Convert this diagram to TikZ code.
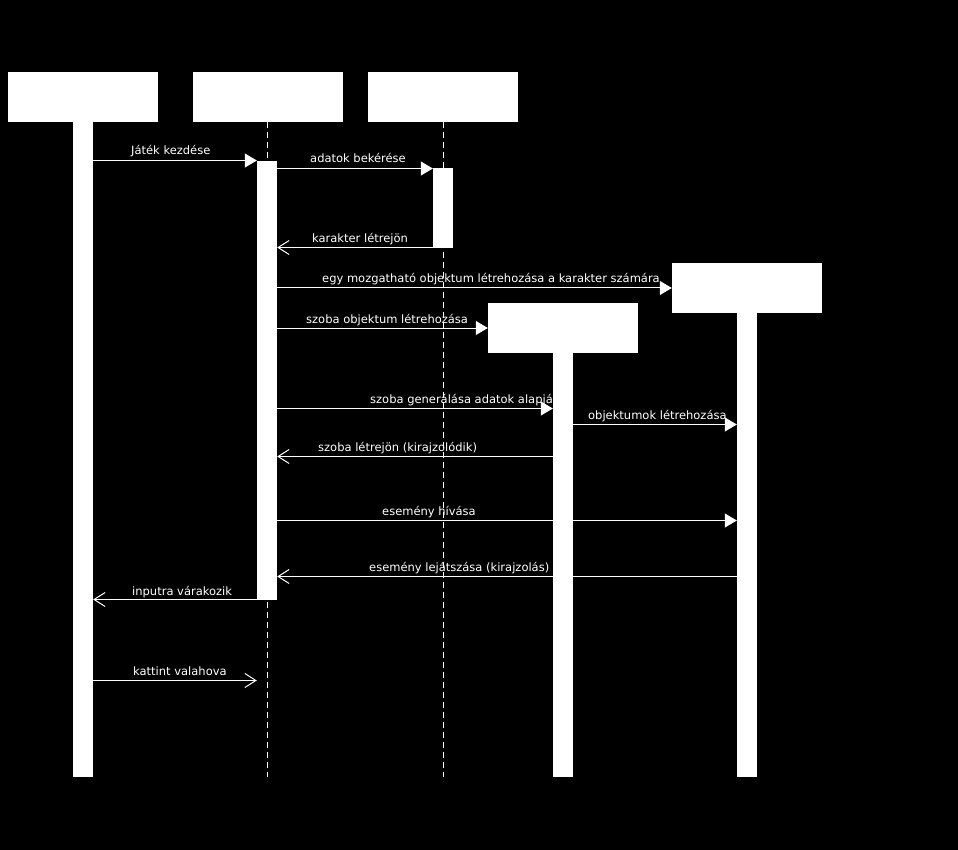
\documentclass[tikz,border=0pt]{standalone}
\usepackage{fontspec}
\setmainfont{DejaVu Sans}
\usetikzlibrary{arrows.meta}
\pgfdeclarelayer{bg}
\pgfsetlayers{bg,main}
\begin{document}
\begin{tikzpicture}[x=1pt,y=-1pt,
  head/.style={fill=white, draw=none, minimum width=150pt, minimum height=50pt, inner sep=0pt},
  bar/.style={fill=white, draw=none, minimum width=20pt, inner sep=0pt},
  life/.style={white, line width=1pt, dash pattern=on 6pt off 4pt},
  msg/.style={white, line width=1pt, -{Triangle[length=12pt,width=14pt]}},
  ret/.style={white, line width=1pt, -{Straight Barb[length=11pt,width=14pt]}},
  lbl/.style={text=white, font=\fontsize{11.5}{13}\selectfont, anchor=base west, inner sep=0pt}]
\useasboundingbox (0,0) rectangle (958,850);
\begin{pgfonlayer}{bg}
\fill[black] (0,0) rectangle (958,850);
\end{pgfonlayer}
% participant heads
\node[head] (hA) at (83,97) {};
\node[head] (hB) at (267.5,97) {};
\node[head] (hC) at (443,97) {};
\node[head] (hD) at (563,328) {};
\node[head] (hE) at (747,288) {};
% lifelines and labels (behind)
\coordinate (eB) at (267,777);
\coordinate (eC) at (443,777);
\begin{pgfonlayer}{bg}
\draw[life] (hB.south -| eB) -- (eB);
\draw[life] (hC.south -| eC) -- (eC);
\node[lbl] (l1) at (131,155) {Játék kezdése};
\node[lbl] (l2) at (310,163) {adatok bekérése};
\node[lbl] (l3) at (312,243) {karakter létrejön};
\node[lbl] (l4) at (322,283) {egy mozgatható objektum létrehozása a karakter számára};
\node[lbl] (l5) at (306,323) {szoba objektum létrehozása};
\node[lbl] (l6) at (370,403) {szoba generálása adatok alapján};
\node[lbl] (l7) at (588,419) {objektumok létrehozása};
\node[lbl] (l8) at (318,451) {szoba létrejön (kirajzolódik)};
\node[lbl] (l9) at (382,515) {esemény hívása};
\node[lbl] (l10) at (369,571) {esemény lejátszása (kirajzolás)};
\node[lbl] (l11) at (132,595) {inputra várakozik};
\node[lbl] (l12) at (133,675) {kattint valahova};
\end{pgfonlayer}
% activation bars
\node[bar, minimum height=655pt] (bA) at (83,449.5) {};
\node[bar, minimum height=439pt] (bB) at (267,380.5) {};
\node[bar, minimum height=80pt] (bC) at (443,208) {};
\node[bar, minimum height=424pt] (bD) at (563,565) {};
\node[bar, minimum height=464pt] (bE) at (747,545) {};
% message rows
\coordinate (r1) at (0,160.5);
\coordinate (r2) at (0,168.5);
\coordinate (r3) at (0,247.5);
\coordinate (r4) at (0,288);
\coordinate (r5) at (0,328);
\coordinate (r6) at (0,408.5);
\coordinate (r7) at (0,424.5);
\coordinate (r8) at (0,456.5);
\coordinate (r9) at (0,520.5);
\coordinate (r10) at (0,576.5);
\coordinate (r11) at (0,599.5);
\coordinate (r12) at (0,680.5);
% messages
\draw[msg] (bA.east |- r1) -- (bB.west |- r1);
\draw[msg] (bB.east |- r2) -- (bC.west |- r2);
\draw[ret] (bC.west |- r3) -- (bB.east |- r3);
\draw[msg] (bB.east |- r4) -- (hE.west);
\draw[msg] (bB.east |- r5) -- (hD.west);
\draw[msg] (bB.east |- r6) -- (bD.west |- r6);
\draw[msg] (bD.east |- r7) -- (bE.west |- r7);
\draw[ret] (bD.west |- r8) -- (bB.east |- r8);
\draw[msg] (bB.east |- r9) -- (bE.west |- r9);
\draw[ret] (bE.west |- r10) -- (bB.east |- r10);
\draw[ret] (bB.west |- r11) -- (bA.east |- r11);
\draw[ret] (bA.east |- r12) -- (bB.west |- r12);
\end{tikzpicture}
\end{document}
